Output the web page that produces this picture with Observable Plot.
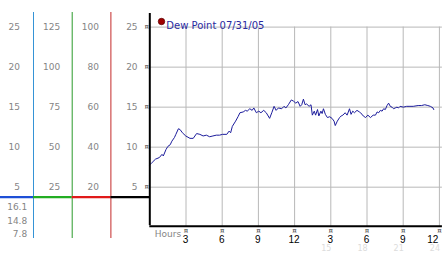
<!DOCTYPE html>
<html><head><meta charset="utf-8">
<script src="https://cdn.jsdelivr.net/npm/d3@7"></script>
<script src="https://cdn.jsdelivr.net/npm/@observablehq/plot@0.6"></script>
<style>
body{margin:0;background:#fff;}
#wrap{position:relative;width:442px;height:253px;overflow:hidden;}
#wrap svg{position:absolute;left:0;top:0;background:transparent;max-width:none;}
</style>
</head><body><div id="wrap"></div>
<script>
// ---- data ----
const hours = [0.0,0.2,0.47,0.79,1.01,1.12,1.34,1.5,1.69,1.83,2.04,2.16,2.37,2.51,2.7,2.98,3.33,3.6,3.88,4.15,4.42,4.69,4.96,5.23,5.51,5.78,6.03,6.38,6.57,6.7,6.84,7.11,7.31,7.47,7.74,7.93,8.07,8.29,8.48,8.62,8.83,9.03,9.21,9.44,9.65,9.93,10.11,10.3,10.47,10.66,10.93,11.12,11.28,11.48,11.73,11.91,12.1,12.28,12.46,12.59,12.73,12.87,13.0,13.2,13.36,13.47,13.63,13.74,13.9,14.01,14.18,14.28,14.39,14.55,14.72,14.91,15.1,15.27,15.37,15.54,15.73,15.86,16.0,16.19,16.35,16.55,16.68,16.82,16.96,17.17,17.37,17.47,17.69,17.88,18.07,18.29,18.51,18.7,18.84,18.97,19.11,19.25,19.38,19.52,19.66,19.79,19.93,20.07,20.2,20.34,20.48,20.61,20.74,21.01,21.29,21.56,21.83,22.24,22.52,22.79,23.04,23.25,23.47,23.53];
const dewPoint = [7.8,8.1,8.5,8.7,9.1,8.9,9.7,10.1,10.3,10.75,11.2,11.6,12.3,12.2,11.8,11.4,11.1,11.1,11.7,11.6,11.4,11.5,11.3,11.4,11.5,11.5,11.6,11.6,12.0,11.8,12.6,13.25,13.8,14.3,14.4,14.6,14.5,14.8,14.6,14.9,14.3,14.5,14.3,14.6,14.3,13.6,14.3,15.1,14.6,14.9,14.8,15.1,14.9,15.3,15.9,15.75,15.5,15.7,15.1,15.3,16.0,15.3,15.4,15.1,15.3,14.0,14.5,14.0,14.7,13.9,14.5,14.2,14.8,14.1,13.7,13.8,13.6,13.25,12.7,13.25,13.7,13.9,14.0,14.3,14.0,14.8,14.1,14.5,14.3,14.6,14.4,14.3,13.9,13.7,14.0,13.7,14.0,14.0,14.4,14.3,14.6,14.5,14.8,14.7,15.2,15.5,15.1,15.0,14.8,14.9,15.0,14.9,15.1,15.0,15.1,15.1,15.1,15.2,15.2,15.3,15.2,15.1,14.9,14.7];
const gridHours = [3,6,9,12,15,18,21,24];
const hourLabels = ["3","6","9","12","3","6","9","12"];
const faintHours = [15,18,21,24];
const faintLabels = ["15","18","21","24"];
const yTicks = [5,10,15,20,25];
const col1Labels = ["5","10","15","20","25"];
const col2Labels = ["25","50","75","100","125"];
const col3Labels = ["20","40","60","80","100"];
const col4Labels = ["5","10","15","20","25"];
const stats = ["16.1","14.8","7.8"];
const seriesName = "Dew Point 07/31/05";
const axisTitle = "Hours";
const sideBaseline = 3.75;

// ---- styles ----
const GRAY = "#858585";
const GRID = "#b8b8b8";
const LINE = "#1c1c9c";
const FONT = "DejaVu Sans, Verdana, sans-serif";
const NUMFONT = "Liberation Sans, Arial, sans-serif";
const sideColors = ["#1d4fd6", "#22ad22", "#e01a1a", "#000000"];
const sideRuleColors = ["#3593d6", "#2a9a2a", "#c42a2a"];

const yScale = {domain: [0, 26.7]};
const data = hours.map((h, i) => ({h, v: dewPoint[i]}));
const tickRows = gridHours.map((h, i) => ({h, label: hourLabels[i], last: i === gridHours.length - 1}));

const main = Plot.plot({
  width: 442, height: 253,
  marginLeft: 149.3, marginRight: 3.1, marginTop: 13, marginBottom: 26.3,
  x: {domain: [0, 24], axis: null},
  y: {...yScale, axis: null},
  style: {fontFamily: FONT, background: "transparent", overflow: "visible"},
  marks: [
    Plot.ruleY(yTicks, {x1: 0, x2: 24.25, stroke: GRID, strokeWidth: 1}),
    Plot.ruleX(gridHours, {y1: 0, y2: 25, stroke: GRID, strokeWidth: 1}),
    Plot.line(data, {x: "h", y: "v", stroke: LINE, strokeWidth: 1}),
    Plot.ruleX([0], {y1: 0.2, y2: 26.7, stroke: "#000", strokeWidth: 2}),
    Plot.ruleY([0], {x1: 0, x2: 24.25, dy: -1, stroke: "#000", strokeWidth: 2}),
    Plot.text(yTicks, {x: 0, y: d => d, text: () => "¤", dx: -3, fontSize: 7, fill: "#333"}),
    Plot.text(gridHours, {x: d => d, y: 0, text: () => "¤", dy: 4, fontSize: 7, fill: "#333"}),
    Plot.text(tickRows.filter(d => !d.last), {x: "h", y: 0, text: "label", dy: 12.5, dx: -0.5, fontSize: 10, fontFamily: NUMFONT, fill: "#000"}),
    Plot.text(tickRows.filter(d => d.last), {x: "h", y: 0, text: "label", dy: 12.5, dx: -1, textAnchor: "end", fontSize: 10, fontFamily: NUMFONT, fill: "#000"}),
    Plot.text(faintHours, {x: d => d, y: 0, text: (d, i) => faintLabels[i], dy: 21.5, dx: -4.5, fontSize: 8, fill: "#dcdcdc"}),
    Plot.text([axisTitle], {x: 0, y: 0, text: d => d, dx: 5, dy: 7, textAnchor: "start", fontSize: 9, fill: GRAY}),
    Plot.dot([seriesName], {frameAnchor: "top-left", dx: 11.7, dy: 8, r: 3.2, fill: "#a00000", stroke: "#600000", strokeWidth: 0.8}),
    Plot.text([seriesName], {frameAnchor: "top-left", text: d => d, dx: 16.5, dy: 8, textAnchor: "start", fontSize: 10, fill: "#2a2aa0"})
  ]
});

const colLabelSets = [col1Labels, col2Labels, col3Labels, col4Labels];
const side = Plot.plot({
  width: 150, height: 253,
  marginLeft: 0, marginRight: 0, marginTop: 12, marginBottom: 15,
  x: {domain: [0, 4], range: [-5.7, 149.1], axis: null},
  y: {...yScale, range: [226.7, 13], axis: null},
  style: {fontFamily: FONT, background: "transparent", overflow: "visible"},
  marks: [
    Plot.ruleX([1, 2, 3], {stroke: (d, i) => sideRuleColors[i], strokeWidth: 1}),
    Plot.ruleY([0, 1, 2, 3], {y: () => sideBaseline, x1: d => d, x2: d => d + 1, stroke: (d, i) => sideColors[i], strokeWidth: 2.2}),
    ...colLabelSets.map((labels, c) =>
      Plot.text(yTicks, {x: c + 1, y: d => d, text: (d, i) => labels[i], textAnchor: "end", dx: c === 0 ? -13.5 : -12, fontSize: 9, fill: GRAY})
    ),
    Plot.text([stats.join("\n")], {x: 1, y: sideBaseline, text: d => d, textAnchor: "end", lineAnchor: "top", dx: -6.3, dy: 3.5, lineHeight: 1.5, fontSize: 9, fill: GRAY})
  ]
});

const wrap = document.getElementById("wrap");
wrap.appendChild(main);
wrap.appendChild(side);
</script>
</body></html>
